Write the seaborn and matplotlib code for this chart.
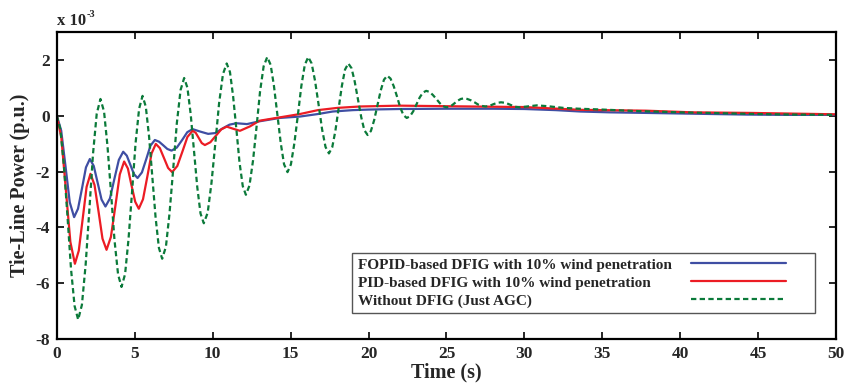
import matplotlib
matplotlib.use("Agg")
import matplotlib.pyplot as plt
from matplotlib.legend_handler import HandlerLine2D
import seaborn as sns

# tie-line power deviation (x 1e-3 p.u.)
t_fopid = [0, 0.28, 0.56, 0.83, 1.11, 1.36, 1.62, 1.87, 2.12, 2.37, 2.62, 2.87, 3.12,
           3.41, 3.69, 3.98, 4.26, 4.49, 4.72, 4.95, 5.18, 5.46, 5.74, 6.01, 6.29,
           6.56, 6.83, 7.09, 7.36, 7.70, 8.04, 8.37, 8.71, 9.21, 9.71, 10.17, 10.62,
           11.08, 11.53, 12.2, 13.0, 14.3, 15.6, 16.75, 17.7, 19, 20, 22, 25, 28, 30,
           32, 33.6, 35.5, 37.8, 41, 44.3, 47, 50]
p_fopid = [0, -0.53, -1.82, -3.10, -3.63, -3.33, -2.59, -1.85, -1.55, -1.80, -2.40,
           -3.00, -3.25, -2.96, -2.27, -1.58, -1.29, -1.43, -1.76, -2.09, -2.23, -2.03,
           -1.55, -1.07, -0.87, -0.93, -1.06, -1.19, -1.25, -1.14, -0.87, -0.59, -0.48,
           -0.57, -0.65, -0.62, -0.46, -0.32, -0.27, -0.30, -0.20, -0.08, -0.03, 0.06,
           0.15, 0.20, 0.22, 0.24, 0.25, 0.25, 0.24, 0.20, 0.15, 0.12, 0.10, 0.07,
           0.04, 0.03, 0.03]

t_pid = [0, 0.29, 0.58, 0.87, 1.16, 1.41, 1.66, 1.91, 2.16, 2.42, 2.68, 2.93, 3.19,
         3.47, 3.76, 4.04, 4.32, 4.56, 4.79, 5.03, 5.26, 5.53, 5.81, 6.08, 6.35, 6.61,
         6.88, 7.14, 7.40, 7.73, 8.06, 8.38, 8.71, 8.91, 9.11, 9.30, 9.50, 9.85, 10.2,
         10.55, 10.9, 11.33, 11.75, 12.4, 13.0, 14.3, 15.6, 16.75, 18, 19.45, 22, 25,
         30, 33.6, 37.8, 40.8, 44.5, 50]
p_pid = [0, -0.78, -2.65, -4.52, -5.30, -4.83, -3.69, -2.55, -2.08, -2.48, -3.44,
         -4.40, -4.80, -4.34, -3.22, -2.10, -1.64, -1.89, -2.49, -3.08, -3.33, -2.99,
         -2.17, -1.35, -1.01, -1.16, -1.52, -1.87, -2.02, -1.80, -1.28, -0.76, -0.54,
         -0.61, -0.80, -0.98, -1.05, -0.95, -0.72, -0.49, -0.39, -0.47, -0.54, -0.38,
         -0.18, -0.06, 0.06, 0.20, 0.28, 0.33, 0.36, 0.34, 0.31, 0.21, 0.18, 0.12,
         0.10, 0.05]

t_agc = [0, 0.23, 0.46, 0.69, 0.91, 1.14, 1.37, 1.61, 1.85, 2.09, 2.32, 2.56, 2.80,
         3.03, 3.25, 3.48, 3.70, 3.93, 4.15, 4.38, 4.60, 4.83, 5.05, 5.28, 5.50,
         5.71, 5.92, 6.13, 6.34, 6.55, 6.76, 7.00, 7.23, 7.47, 7.70, 7.94, 8.17,
         8.38, 8.59, 8.80, 9.01, 9.22, 9.43, 9.68, 9.92, 10.17, 10.41, 10.66, 10.9,
         11.11, 11.31, 11.52, 11.72, 11.93, 12.13, 12.36, 12.59, 12.82, 13.04, 13.27,
         13.5, 13.72, 13.93, 14.15, 14.37, 14.58, 14.8, 15.02, 15.24, 15.47, 15.69,
         15.91, 16.13, 16.35, 16.57, 16.80, 17.02, 17.24, 17.46, 17.67, 17.87, 18.08,
         18.29, 18.49, 18.7, 18.91, 19.11, 19.32, 19.53, 19.73, 19.94, 20.15, 20.36,
         20.57, 20.78, 20.99, 21.2, 21.41, 21.62, 21.83, 22.03, 22.24, 22.45, 22.66,
         22.87, 23.08, 23.28, 23.49, 23.7, 23.92, 24.13, 24.35, 24.57, 24.78, 25.0,
         25.18, 25.37, 25.55, 25.73, 25.92, 26.1, 26.33, 26.57, 26.80, 27.03, 27.27,
         27.5, 27.75, 28.0, 28.25, 28.5, 28.8, 29.1, 29.4, 29.7, 30.25, 30.8, 31.5,
         32.5, 33.5, 35, 37, 40, 42.5, 45, 47.5, 50]
p_agc = [0, -0.49, -1.83, -3.65, -5.48, -6.81, -7.30, -6.77, -5.33, -3.35, -1.38,
         0.07, 0.60, 0.15, -1.08, -2.77, -4.45, -5.68, -6.13, -5.67, -4.42, -2.71,
         -1.00, 0.25, 0.71, 0.32, -0.75, -2.21, -3.66, -4.73, -5.12, -4.69, -3.50,
         -1.89, -0.27, 0.92, 1.35, 1.00, 0.05, -1.25, -2.55, -3.50, -3.85, -3.47,
         -2.42, -0.99, 0.44, 1.49, 1.87, 1.56, 0.70, -0.48, -1.66, -2.52, -2.83,
         -2.50, -1.60, -0.37, 0.87, 1.77, 2.10, 1.82, 1.07, 0.04, -0.99, -1.74, -2.02,
         -1.74, -0.99, 0.04, 1.07, 1.82, 2.10, 1.87, 1.24, 0.38, -0.49, -1.12, -1.35,
         -1.13, -0.55, 0.26, 1.07, 1.65, 1.87, 1.70, 1.23, 0.59, -0.05, -0.52, -0.69,
         -0.55, -0.16, 0.37, 0.90, 1.29, 1.43, 1.33, 1.05, 0.68, 0.30, 0.02, -0.08,
         -0.02, 0.16, 0.41, 0.65, 0.83, 0.89, 0.85, 0.74, 0.60, 0.45, 0.34, 0.30,
         0.32, 0.38, 0.46, 0.54, 0.60, 0.62, 0.60, 0.55, 0.48, 0.40, 0.35, 0.33,
         0.35, 0.41, 0.46, 0.48, 0.46, 0.39, 0.32, 0.30, 0.335, 0.37, 0.34, 0.28,
         0.25, 0.22, 0.17, 0.12, 0.09, 0.06, 0.04, 0.03]

labels = ["FOPID-based DFIG with 10% wind penetration",
          "PID-based DFIG with 10% wind penetration",
          "Without DFIG (Just AGC)"]
colors = ["#3f4ea3", "#ec1c24", "#0b7a3a"]


class ShortLine(HandlerLine2D):
    # legend sample stops short of the frame, leaving a gap on the right
    def create_artists(self, legend, orig_handle, xdescent, ydescent, width,
                       height, fontsize, trans):
        return super().create_artists(legend, orig_handle, xdescent, ydescent,
                                      width * 0.8, height, fontsize, trans)


sns.set_style("ticks")
plt.rcParams["font.family"] = ["Liberation Serif", "DejaVu Serif"]
plt.rcParams["font.weight"] = "bold"
plt.rcParams["axes.unicode_minus"] = False
plt.rcParams["xtick.direction"] = "in"
plt.rcParams["ytick.direction"] = "in"
plt.rcParams["xtick.top"] = True
plt.rcParams["ytick.right"] = True

fig, ax = plt.subplots(figsize=(8.48, 3.89), dpi=100)
fig.subplots_adjust(left=0.067, right=0.986, bottom=0.128, top=0.918)

sns.lineplot(x=t_fopid, y=p_fopid, ax=ax, color=colors[0], lw=1.6, label=labels[0],
             sort=False, estimator=None)
sns.lineplot(x=t_pid, y=p_pid, ax=ax, color=colors[1], lw=1.6, label=labels[1],
             sort=False, estimator=None)
sns.lineplot(x=t_agc, y=p_agc, ax=ax, color=colors[2], lw=1.6, label=labels[2],
             sort=False, estimator=None, linestyle=(0, (2.4, 1.5)))

ax.set_xlim(0, 50)
ax.set_ylim(-8, 3)
ax.set_xticks(range(0, 51, 5))
ax.set_yticks([-8, -6, -4, -2, 0, 2])
ax.tick_params(labelsize=12.5, width=1.4, length=5, pad=5)
for s in ax.spines.values():
    s.set_linewidth(1.6)
    s.set_color("black")

ax.set_xlabel("Time (s)", fontsize=14.5, fontweight="bold", labelpad=0)
ax.set_ylabel("Tie-Line Power (p.u.)", fontsize=14.5, fontweight="bold", labelpad=4)
ax.text(0.0, 1.008, "x 10", transform=ax.transAxes, fontsize=12,
        fontweight="bold", ha="left", va="bottom")
ax.text(0.0385, 1.043, "-3", transform=ax.transAxes, fontsize=7.5,
        fontweight="bold", ha="left", va="bottom")

handles, _ = ax.get_legend_handles_labels()
leg = ax.legend(handles, labels, loc="lower right", bbox_to_anchor=(0.973, 0.085),
                borderaxespad=0, markerfirst=False, handlelength=7.8,
                handler_map={h: ShortLine() for h in handles},
                fancybox=False, framealpha=1, edgecolor="#555555",
                prop={"size": 11, "weight": "bold"}, labelspacing=0.28,
                borderpad=0.35, handletextpad=0.3)
leg.get_frame().set_linewidth(1.0)
# text left-aligned, samples lined up on the right like the original
for col in leg._legend_handle_box.get_children():
    col.align = "left"
    for row in col.get_children():
        row.mode = "expand"
        row.width = 452

fig.savefig("out.png", dpi=100)
